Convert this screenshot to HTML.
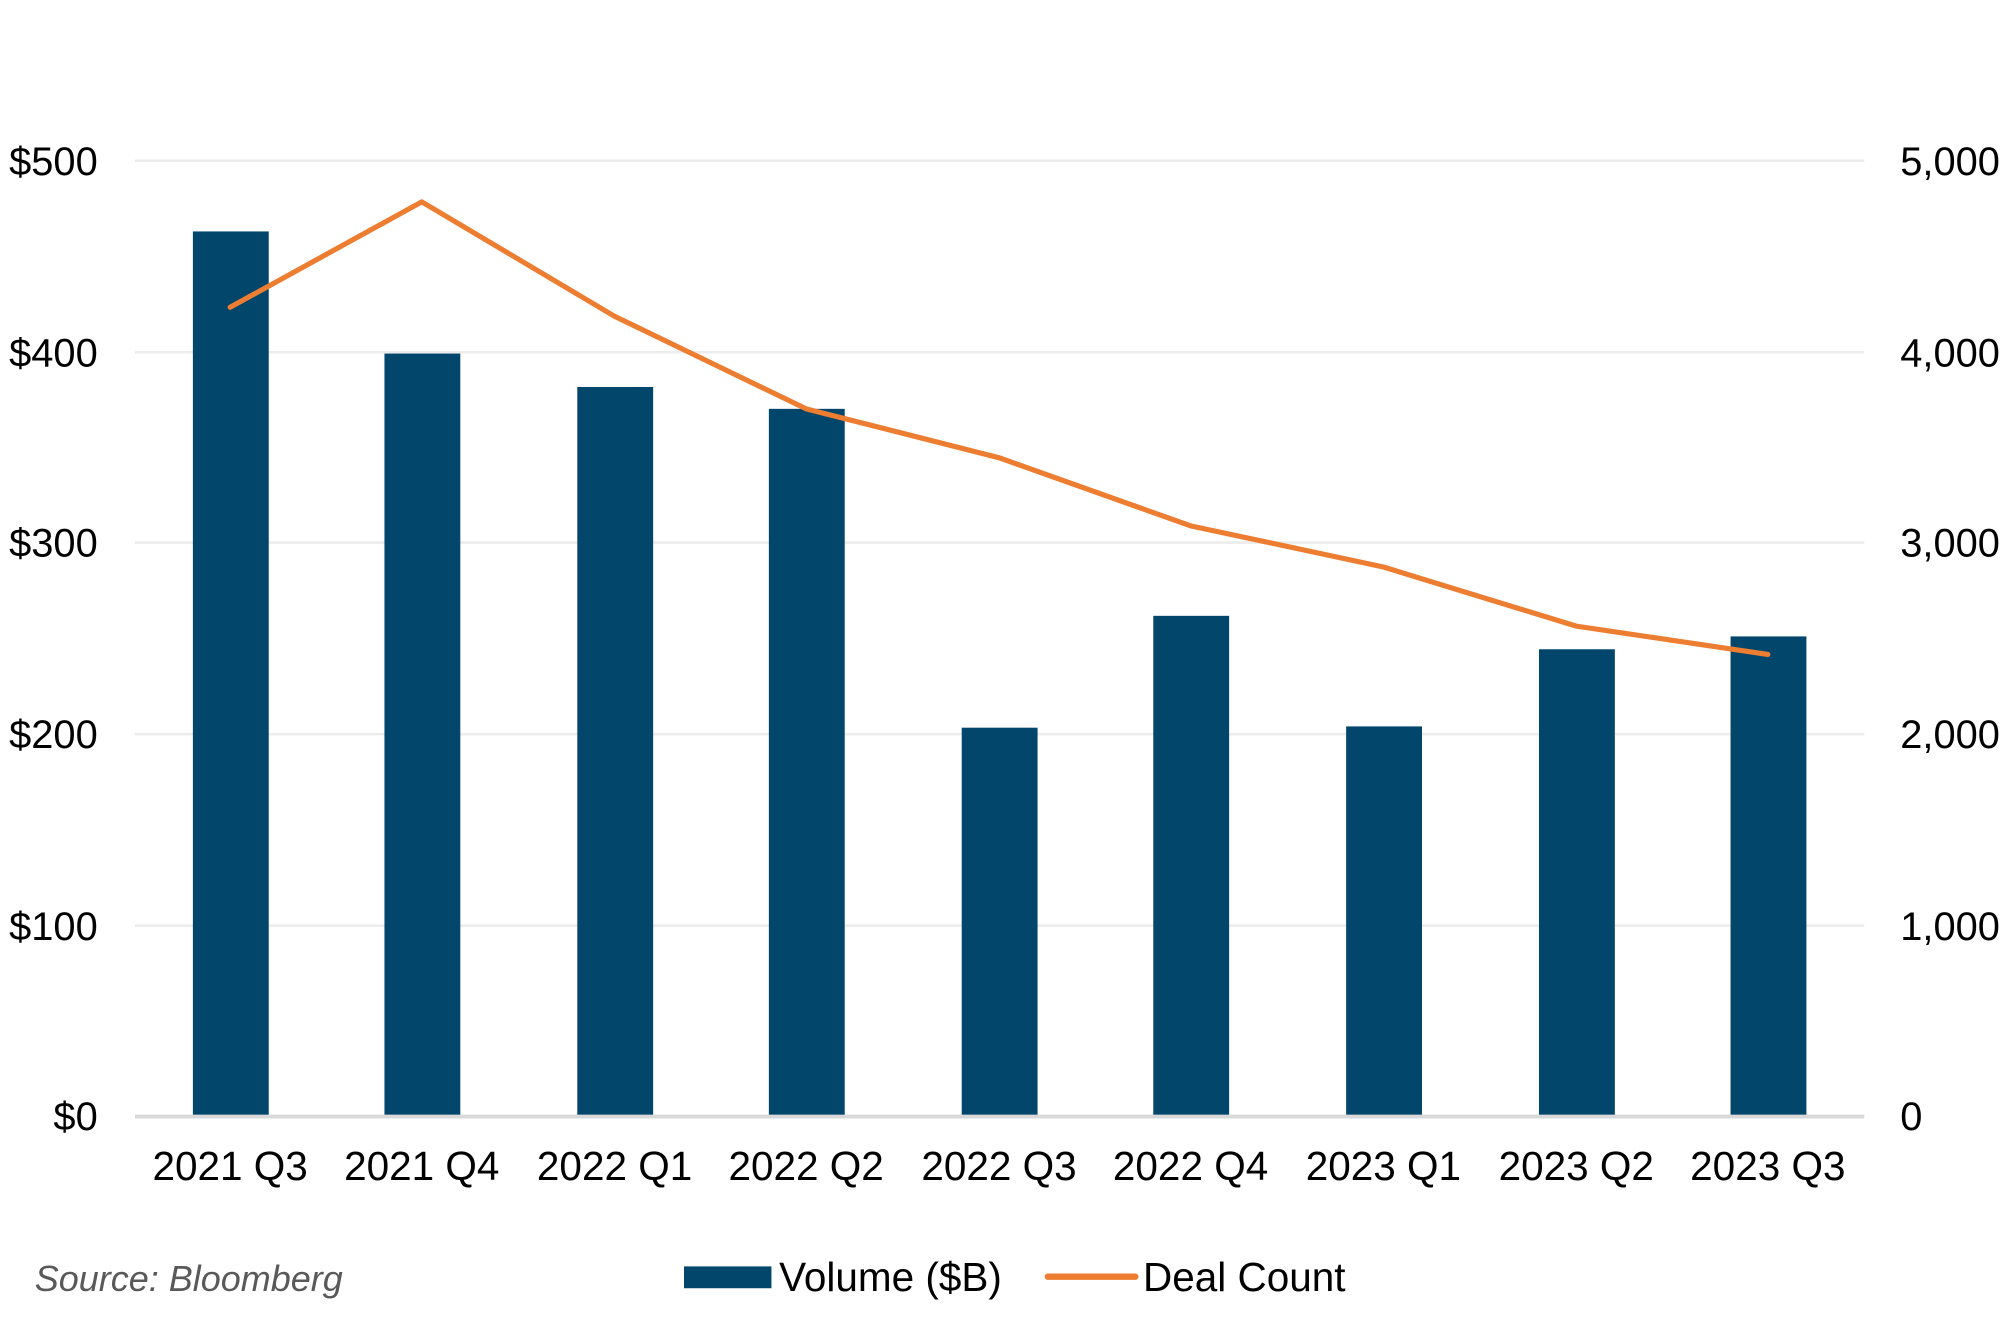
<!DOCTYPE html>
<html><head><meta charset="utf-8"><style>
html,body{margin:0;padding:0;background:#fff}
svg{display:block}
text{font-family:"Liberation Sans",Arial,sans-serif}
</style></head><body>
<svg width="2016" height="1320" viewBox="0 0 1568 1026.7" xmlns="http://www.w3.org/2000/svg">
<g stroke="#ececec" stroke-width="2">
<line x1="105" y1="125" x2="1450" y2="125"/>
<line x1="105" y1="274" x2="1450" y2="274"/>
<line x1="105" y1="422" x2="1450" y2="422"/>
<line x1="105" y1="571" x2="1450" y2="571"/>
<line x1="105" y1="720" x2="1450" y2="720"/>
</g>
<g fill="#02466c">
<rect x="150" y="180" width="59" height="688"/>
<rect x="299" y="275" width="59" height="593"/>
<rect x="449" y="301" width="59" height="567"/>
<rect x="598" y="318" width="59" height="550"/>
<rect x="748" y="566" width="59" height="302"/>
<rect x="897" y="479" width="59" height="389"/>
<rect x="1047" y="565" width="59" height="303"/>
<rect x="1197" y="505" width="59" height="363"/>
<rect x="1346" y="495" width="59" height="373"/>
</g>
<line x1="105" y1="868.5" x2="1450" y2="868.5" stroke="#d9d9d9" stroke-width="3"/>
<polyline fill="none" stroke="#ed7d31" stroke-width="4" stroke-linecap="round" stroke-linejoin="round"
points="179,239 328,157 478,246 627,318 777,356 926,409 1076,441 1226,487 1375,509"/>
<g font-size="31" fill="#000" text-anchor="end">
<text x="76" y="136">$500</text>
<text x="76" y="285">$400</text>
<text x="76" y="433">$300</text>
<text x="76" y="582">$200</text>
<text x="76" y="731">$100</text>
<text x="76" y="879">$0</text>
</g>
<g font-size="31" fill="#000" text-anchor="start">
<text x="1478" y="136">5,000</text>
<text x="1478" y="285">4,000</text>
<text x="1478" y="433">3,000</text>
<text x="1478" y="582">2,000</text>
<text x="1478" y="731">1,000</text>
<text x="1478" y="879">0</text>
</g>
<g font-size="31.5" fill="#000" text-anchor="middle">
<text x="179" y="918">2021 Q3</text>
<text x="328" y="918">2021 Q4</text>
<text x="478" y="918">2022 Q1</text>
<text x="627" y="918">2022 Q2</text>
<text x="777" y="918">2022 Q3</text>
<text x="926" y="918">2022 Q4</text>
<text x="1076" y="918">2023 Q1</text>
<text x="1226" y="918">2023 Q2</text>
<text x="1375" y="918">2023 Q3</text>
</g>
<text x="27" y="1004" font-size="28" font-style="italic" fill="#595959">Source: Bloomberg</text>
<rect x="532" y="985" width="68" height="17" fill="#02466c"/>
<text x="606" y="1004" font-size="31.5" fill="#000">Volume ($B)</text>
<line x1="815" y1="993" x2="883" y2="993" stroke="#ed7d31" stroke-width="5" stroke-linecap="round"/>
<text x="889" y="1004" font-size="31.5" fill="#000">Deal Count</text>
</svg>
</body></html>
